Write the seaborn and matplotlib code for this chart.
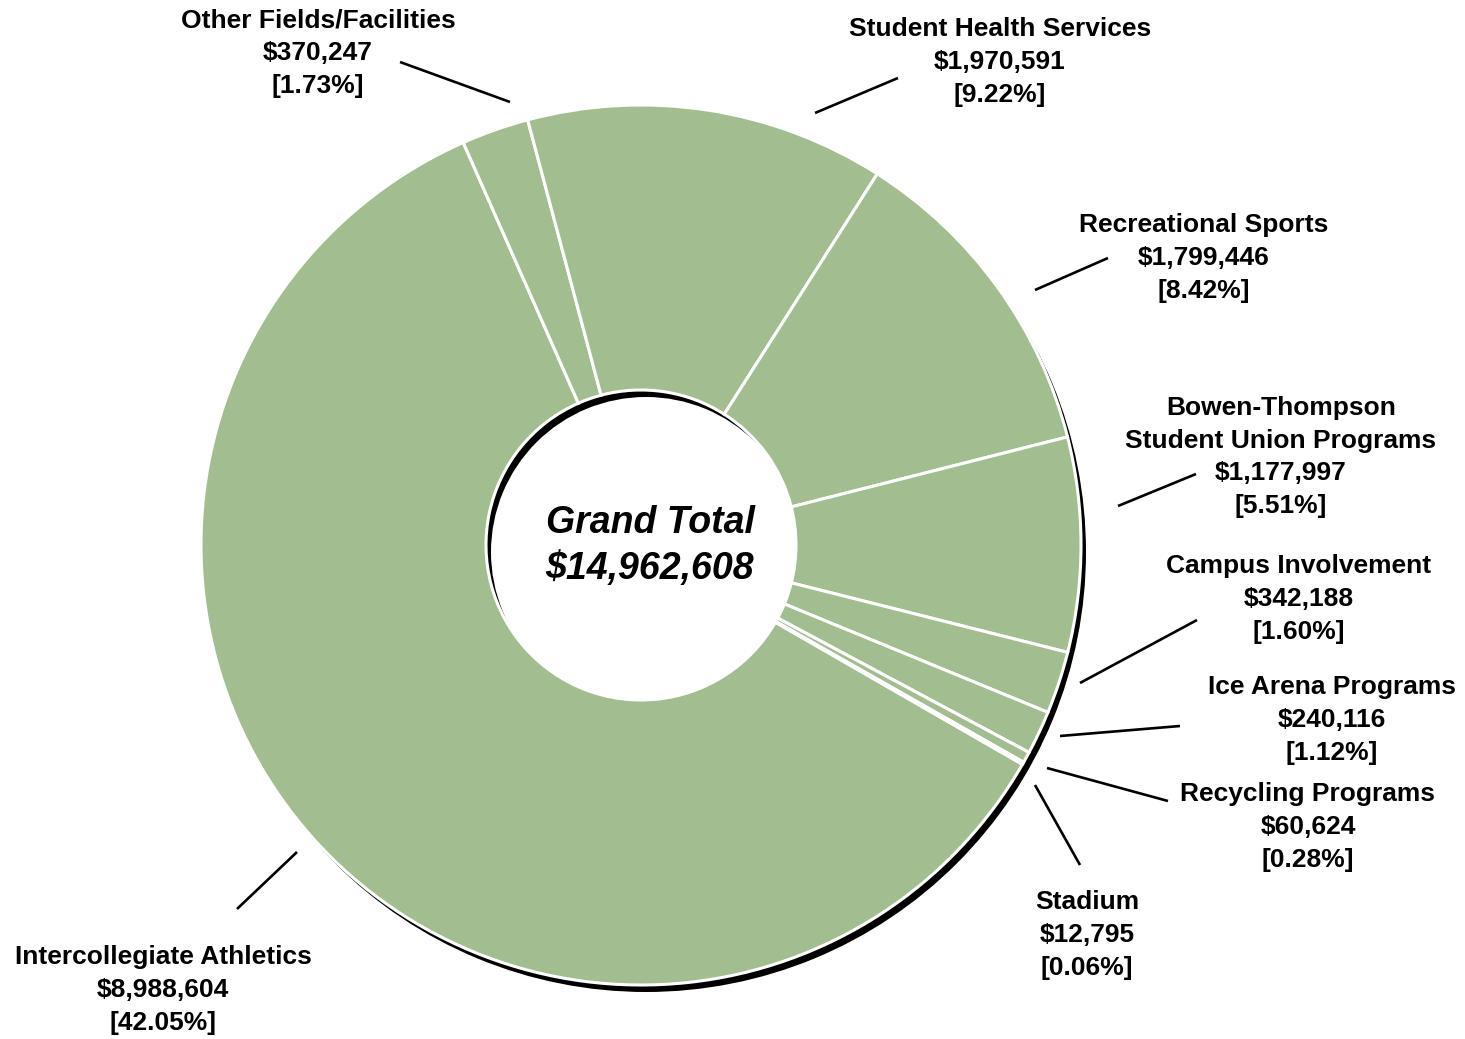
import matplotlib
matplotlib.use("Agg")
import matplotlib.pyplot as plt
import seaborn as sns

# ---- data -------------------------------------------------------------
departments = [
    "Intercollegiate Athletics",
    "Other Fields/Facilities",
    "Student Health Services",
    "Recreational Sports",
    "Bowen-Thompson\nStudent Union Programs",
    "Campus Involvement",
    "Ice Arena Programs",
    "Recycling Programs",
    "Stadium",
]
amounts = [8988604, 370247, 1970591, 1799446, 1177997, 342188, 240116, 60624, 12795]
percent_labels = [42.05, 1.73, 9.22, 8.42, 5.51, 1.60, 1.12, 0.28, 0.06]
grand_total = sum(amounts)

# ---- layout (pixel positions, origin top-left) --------------------------
W, H = 1465, 1039
label_pos = [
    (163, 990), (318, 53), (1000, 62), (1204, 258), (1281, 457),
    (1299, 599), (1332, 720), (1308, 827), (1087, 935),
]
leader_lines = [
    ((237, 909), (297, 852)),
    ((400, 62), (510, 102)),
    ((898, 78), (815, 113)),
    ((1108, 258), (1035, 290)),
    ((1196, 474), (1118, 506)),
    ((1197, 620), (1080, 683)),
    ((1180, 726), (1060, 736)),
    ((1168, 801), (1047, 768)),
    ((1080, 865), (1035, 785)),
]
center_px = (641, 545)
outer_r = 440
inner_r = 155
shadow_offset = (5, 7)
green = "#A2BD8F"


def px(x, y):
    """Convert top-left pixel coordinates to data coordinates."""
    return x, H - y


sns.set_theme(style="white")
plt.rcParams["font.family"] = ["Liberation Sans", "DejaVu Sans"]

fig = plt.figure(figsize=(W / 100, H / 100), dpi=100)
ax = fig.add_axes([0, 0, 1, 1])

cx, cy = px(*center_px)

# drop shadow ring behind the donut
ax.pie([1], radius=outer_r, center=(cx + shadow_offset[0], cy - shadow_offset[1]),
       colors=["black"], wedgeprops=dict(width=outer_r - inner_r, edgecolor="none"))

# donut
ax.pie(amounts, radius=outer_r, center=(cx, cy), colors=[green] * len(amounts),
       startangle=-29.9, counterclock=False,
       wedgeprops=dict(width=outer_r - inner_r, edgecolor="white", linewidth=2.2))

# labels and leader lines
for name, amt, pct, (lx, ly), (p0, p1) in zip(departments, amounts, percent_labels,
                                             label_pos, leader_lines):
    tx, ty = px(lx, ly)
    ax.text(tx, ty, f"{name}\n${amt:,}\n[{pct:.2f}%]", ha="center", va="center",
            fontsize=19, fontweight="bold", color="black", linespacing=1.47)
    x0, y0 = px(*p0)
    x1, y1 = px(*p1)
    ax.plot([x0, x1], [y0, y1], color="black", linewidth=1.9, solid_capstyle="butt")

# grand total in the hole
ax.text(cx + 9, cy - 1, f"Grand Total\n${grand_total:,}", ha="center", va="center",
        fontsize=27, fontweight="bold", fontstyle="italic", color="black",
        linespacing=1.36)

ax.set_xlim(0, W)
ax.set_ylim(0, H)
ax.set_aspect("equal")
ax.axis("off")

fig.savefig("out.png", dpi=100, facecolor="white")
